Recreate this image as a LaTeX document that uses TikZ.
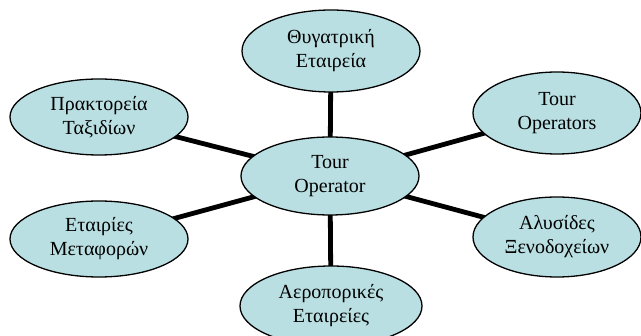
\documentclass[tikz,border=0pt]{standalone}
\usepackage{fontspec}
\setmainfont{Liberation Serif}
\newfontfamily\bubblefont{Liberation Serif}
\usetikzlibrary{shapes.geometric,backgrounds}
\definecolor{bubblefill}{RGB}{185,223,226}
\tikzset{
  bubble/.style={ellipse, draw=black, line width=1.3pt, fill=bubblefill,
    inner sep=0pt, minimum width=178pt, minimum height=78pt, align=center,
    font=\bubblefont\fontsize{20}{24}\selectfont},
  spoke/.style={draw=black, line width=4.8pt}
}
\begin{document}
\begin{tikzpicture}[x=1pt,y=-1pt]
\useasboundingbox (0,0) rectangle (641,336);
\node[bubble] (hub) at (330,176) {Tour\\Operator};
\node[bubble, minimum height=82pt] (sub) at (331,51) {Θυγατρική\\Εταιρεία};
\node[bubble, minimum width=168pt, minimum height=82pt] (tos) at (557,113) {Tour\\Operators};
\node[bubble, minimum width=168pt, minimum height=80pt] (hotel) at (557,237) {Αλυσίδες\\Ξενοδοχείων};
\node[bubble, minimum width=182pt, minimum height=80pt] (air) at (331,306) {Αεροπορικές\\Εταιρείες};
\node[bubble, minimum height=76pt] (trans) at (99,239) {Εταιρίες\\Μεταφορών};
\node[bubble, minimum height=76pt] (agency) at (99,117) {Πρακτορεία\\Ταξιδίων};
\begin{scope}[on background layer]
  \foreach \n in {sub,tos,hotel,air,trans,agency}
    \draw[spoke] (hub.center) -- (\n.center);
\end{scope}
\end{tikzpicture}
\end{document}
